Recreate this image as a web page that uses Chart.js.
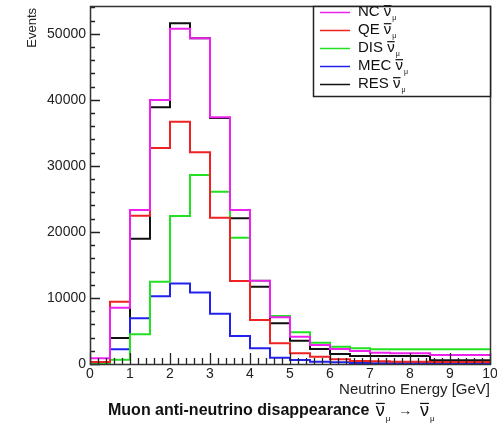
<!DOCTYPE html>
<html>
<head>
<meta charset="utf-8">
<script src="https://cdn.jsdelivr.net/npm/chart.js"></script>
<style>
  html, body { margin: 0; padding: 0; background: #fff; }
  #wrap { width: 497px; height: 426px; }
</style>
</head>
<body>
<div id="wrap"><canvas id="chart" width="497" height="426"></canvas></div>
<script>
// bin edges (GeV), 0.5 GeV bins
const energyEdges = [0, 0.5, 1, 1.5, 2, 2.5, 3, 3.5, 4, 4.5, 5, 5.5, 6, 6.5, 7, 7.5, 8, 8.5, 9, 9.5, 10];

// events per bin
const ncCounts  = [870, 8520, 23300, 39960, 50760, 49300, 37350, 23300, 12600, 7070, 4140, 2870, 2270, 1970, 1710, 1620, 1620, 1360, 1360, 1360];
const qeCounts  = [300, 9430, 22450, 32700, 36680, 32050, 22150, 12560, 6660, 3130, 1620, 1110, 710, 460, 400, 350, 350, 300, 300, 300];
const disCounts = [150, 650, 4500, 12460, 22400, 28610, 26080, 19130, 12600, 7270, 4800, 3230, 2630, 2370, 2220, 2220, 2220, 2220, 2220, 2220];
const mecCounts = [150, 2240, 6910, 10250, 12170, 10840, 7610, 4240, 2380, 950, 600, 350, 250, 150, 120, 100, 100, 100, 100, 100];
const resCounts = [250, 3940, 18970, 38860, 51570, 49300, 37250, 22050, 11710, 6160, 3530, 2270, 1510, 1200, 1200, 1200, 1200, 550, 550, 550];

const seriesNames = ["NC", "QE", "DIS", "MEC", "RES"];
const seriesColors = ["#ee22ee", "#ee2222", "#22e022", "#2222ee", "#111111"];

// axis ticks
const xTickValues = [0, 1, 2, 3, 4, 5, 6, 7, 8, 9, 10];
const yTickValues = [0, 10000, 20000, 30000, 40000, 50000];
const yMax = 54200;

const MU = "\u03BC";

// histogram outline: one point per left edge, plus closing point at last edge
function toSteps(counts) {
  const pts = counts.map((c, i) => ({ x: energyEdges[i], y: c }));
  pts.push({ x: energyEdges[energyEdges.length - 1], y: counts[counts.length - 1] });
  return pts;
}

const allCounts = [ncCounts, qeCounts, disCounts, mecCounts, resCounts];

// ν with an overbar and a μ subscript, returns x after drawing
function drawNuBar(ctx, x, y, size, subSize) {
  ctx.font = size + "px 'Liberation Sans'";
  ctx.textAlign = "left";
  ctx.fillText("\u03BD", x, y);
  const w = ctx.measureText("\u03BD").width;
  ctx.save();
  ctx.strokeStyle = ctx.fillStyle;
  ctx.lineWidth = 1.2;
  ctx.beginPath();
  ctx.moveTo(x, y - size * 0.42);
  ctx.lineTo(x + w, y - size * 0.42);
  ctx.stroke();
  ctx.restore();
  x += w + 1;
  ctx.font = subSize + "px 'Liberation Sans'";
  ctx.fillText(MU, x, y + size * 0.42);
  return x + ctx.measureText(MU).width;
}

const rootStyle = {
  id: "rootStyle",
  afterDraw(chart) {
    const ctx = chart.ctx;
    const a = chart.chartArea;
    const xs = chart.scales.x;
    const ys = chart.scales.y;
    ctx.save();

    // ticks inside the frame
    ctx.strokeStyle = "#222";
    ctx.lineWidth = 1.3;
    ctx.beginPath();
    for (let v = 0; v <= 10.001; v += 0.2) {
      const px = Math.round(xs.getPixelForValue(v)) + 0.5;
      const major = Math.abs(v - Math.round(v)) < 0.01;
      ctx.moveTo(px, a.bottom);
      ctx.lineTo(px, a.bottom - (major ? 11 : 6));
    }
    for (let v = 0; v <= yMax; v += 2000) {
      const py = Math.round(ys.getPixelForValue(v)) + 0.5;
      const major = v % 10000 === 0;
      ctx.moveTo(a.left, py);
      ctx.lineTo(a.left + (major ? 10 : 5), py);
    }
    ctx.stroke();

    // frame
    ctx.strokeStyle = "#333";
    ctx.lineWidth = 1.5;
    ctx.strokeRect(a.left + 0.5, a.top + 0.5, a.right - a.left, a.bottom - a.top);

    // legend
    const lx = 313, ly = 6, lw = 490 - 313, lh = 90;
    ctx.fillStyle = "#fff";
    ctx.fillRect(lx, ly, lw, lh);
    ctx.strokeStyle = "#222";
    ctx.strokeRect(lx + 0.5, ly + 0.5, lw, lh);
    ctx.textBaseline = "middle";
    chart.data.datasets.forEach((ds, i) => {
      const cy = 12 + i * 18;
      ctx.strokeStyle = ds.borderColor;
      ctx.lineWidth = 1.5;
      ctx.beginPath();
      ctx.moveTo(320, cy + 0.5);
      ctx.lineTo(350, cy + 0.5);
      ctx.stroke();
      ctx.fillStyle = "#111";
      ctx.font = "15px 'Liberation Sans'";
      ctx.textAlign = "left";
      ctx.fillText(ds.label, 358, cy);
      const tx = 358 + ctx.measureText(ds.label + " ").width;
      drawNuBar(ctx, tx, cy, 15, 7);
    });

    // axis titles
    ctx.fillStyle = "#222";
    ctx.font = "15px 'Liberation Sans'";
    ctx.textAlign = "right";
    ctx.fillText("Neutrino Energy [GeV]", 490, 390);

    ctx.save();
    ctx.translate(32, 8);
    ctx.rotate(-Math.PI / 2);
    ctx.font = "13px 'Liberation Sans'";
    ctx.textAlign = "right";
    ctx.fillText("Events", 0, 0);
    ctx.restore();

    // bottom title
    ctx.fillStyle = "#111";
    ctx.font = "bold 16px 'Liberation Sans'";
    ctx.textAlign = "left";
    const t = "Muon anti-neutrino disappearance ";
    ctx.fillText(t, 108, 411);
    let x = 108 + ctx.measureText(t).width + 2;
    x = drawNuBar(ctx, x, 411, 18, 8);
    ctx.font = "14px 'Liberation Sans'";
    ctx.fillText("  \u2192  ", x, 411);
    x += ctx.measureText("  \u2192  ").width;
    drawNuBar(ctx, x, 411, 18, 8);

    ctx.restore();
  }
};

new Chart(document.getElementById("chart"), {
  type: "line",
  data: {
    datasets: allCounts.map((counts, i) => ({
      label: seriesNames[i],
      data: toSteps(counts),
      borderColor: seriesColors[i],
      borderWidth: 2,
      pointRadius: 0,
      stepped: true,
      fill: false
    }))
  },
  options: {
    responsive: false,
    animation: false,
    layout: { padding: { top: 6, right: 7, left: 0, bottom: 0 } },
    plugins: { legend: { display: false }, tooltip: { enabled: false } },
    scales: {
      x: {
        type: "linear",
        min: 0,
        max: 10,
        afterBuildTicks: s => { s.ticks = xTickValues.map(v => ({ value: v })); },
        afterFit: s => { s.height = 62; s.paddingLeft = 0; s.paddingRight = 0; },
        grid: { display: false, drawTicks: false },
        border: { display: false },
        ticks: { padding: 2, maxRotation: 0, autoSkip: false, color: "#222", font: { family: "Liberation Sans", size: 14 } }
      },
      y: {
        min: 0,
        max: yMax,
        afterBuildTicks: s => { s.ticks = yTickValues.map(v => ({ value: v })); },
        afterFit: s => { s.width = 90; s.paddingTop = 0; s.paddingBottom = 0; },
        grid: { display: false, drawTicks: false },
        border: { display: false },
        ticks: { padding: 4, color: "#222", callback: v => String(v), font: { family: "Liberation Sans", size: 14 } }
      }
    }
  },
  plugins: [rootStyle]
});
</script>
</body>
</html>
